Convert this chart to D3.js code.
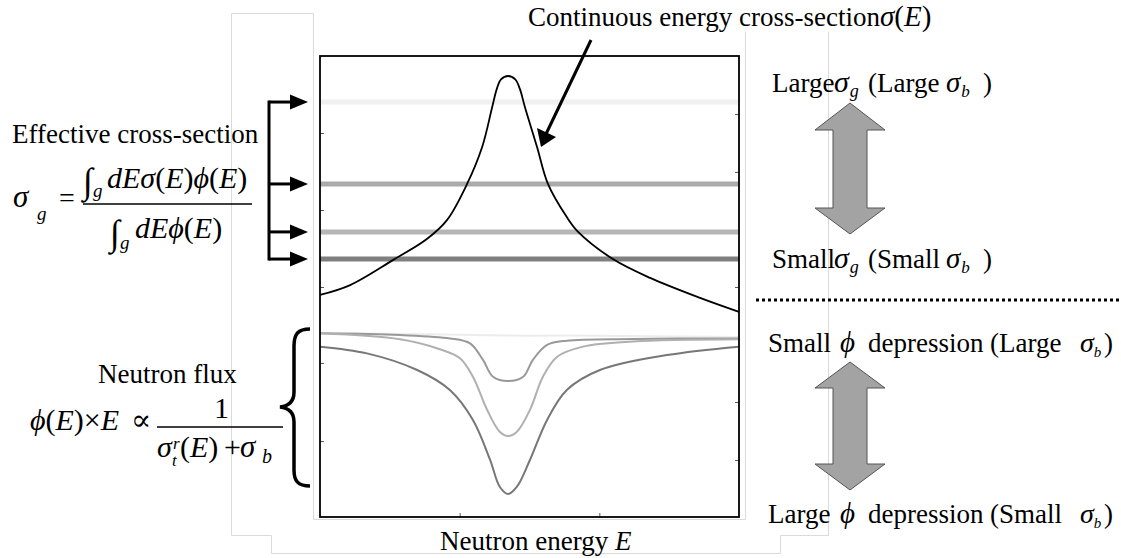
<!DOCTYPE html>
<html><head><meta charset="utf-8">
<script src="https://cdn.jsdelivr.net/npm/d3@7/dist/d3.min.js"></script>
<style>
body{margin:0;background:#fff}
svg{display:block}
svg text{font-family:"Liberation Serif","Tinos","Times New Roman","Noto Serif","DejaVu Serif",serif;fill:#000}
</style></head>
<body><svg id="c" width="1121" height="558"></svg>
<script>
// ---- data (arbitrary units) ----
const sigmaE      = [0, 7.2, 17.4, 25.5, 30.3, 35.1, 38.7, 41.1, 42.2, 43.2, 44.9, 46.6, 47.7, 48.9, 51.8, 54.4, 58.9, 61.6, 69.9, 78.8, 90.7, 100];
const sigmaValues = [1.28, 1.64, 2.55, 3.32, 4.01, 5.33, 6.68, 8.14, 8.80, 9.15, 9.27, 9.15, 8.80, 8.14, 6.68, 5.33, 4.12, 3.58, 2.59, 1.90, 1.17, 0.66];

const groupSigma  = [8.32, 5.33, 3.58, 2.59];          // effective group cross-sections
const groupColors = ["#f0f0f0", "#aaaaaa", "#b6b6b6", "#7f7f7f"];

const fluxFlatE   = [0, 30, 45, 60, 100];
const fluxFlat    = [0.984, 0.976, 0.970, 0.970, 0.963];
const fluxSmallE  = [0, 19.1, 31.0, 35.8, 38.9, 41.3, 44.9, 48.5, 50.8, 54.2, 58.9, 74.7, 100];
const fluxSmall   = [0.982, 0.973, 0.955, 0.928, 0.840, 0.750, 0.727, 0.750, 0.840, 0.920, 0.943, 0.952, 0.955];
const fluxMidE    = [0, 19.1, 28.6, 33.4, 36.5, 39.9, 42.9, 44.9, 47.0, 50.1, 53.2, 56.6, 62.8, 74.7, 100];
const fluxMid     = [0.982, 0.950, 0.897, 0.849, 0.750, 0.572, 0.456, 0.433, 0.456, 0.572, 0.750, 0.857, 0.911, 0.938, 0.950];
const fluxDeepE   = [0, 11.2, 23.2, 31.0, 36.5, 40.6, 42.9, 44.9, 47.0, 50.1, 54.2, 58.9, 66.8, 82.8, 100];
const fluxDeep    = [0.911, 0.875, 0.786, 0.679, 0.519, 0.305, 0.162, 0.123, 0.162, 0.305, 0.519, 0.679, 0.786, 0.866, 0.911];
const fluxColors  = ["#ececec", "#999999", "#b0b0b0", "#777777"];

const xTicks          = [33.33, 66.67];
const sigmaTicksLeft  = [7.19, 4.38, 1.57];
const sigmaTicksRight = [7.88, 5.77, 1.57];
const fluxTicksLeft   = [0.824, 0.406];
const fluxTicksRight  = [0.615, 0.305];

// ---- scales ----
const svg = d3.select("#c");
const x = d3.scaleLinear().domain([0, 100]).range([320, 739]);
const ySig = d3.scaleLinear().domain([0, 10]).range([330, 56]);
const yFlux = d3.scaleLinear().domain([0, 1]).range([517, 330]);

// faint frames
const faint = svg.append("g").attr("fill", "none").attr("stroke", "#dadada").attr("stroke-width", 1);
faint.append("path").attr("d", "M231.5,535.5 V13.5 H313.5 V519.5 H745.5 V32");
faint.append("path").attr("d", "M231.5,535.5 H271.5 V553.5 H780.5 V535.5 H828.5 V32");

// group lines
svg.append("g").selectAll("line").data(groupSigma).join("line")
  .attr("x1", x(0)).attr("x2", x(100))
  .attr("y1", d => ySig(d)).attr("y2", d => ySig(d))
  .attr("stroke", (d, i) => groupColors[i]).attr("stroke-width", 5);

// cross-section curve
const sigLine = d3.line().x((d, i) => x(sigmaE[i])).y(d => ySig(d)).curve(d3.curveCatmullRom.alpha(0.5));
svg.append("path").attr("d", sigLine(sigmaValues)).attr("fill", "none").attr("stroke", "#000").attr("stroke-width", 1.8);

// flux curves
const fluxSeries = [[fluxFlatE, fluxFlat], [fluxSmallE, fluxSmall], [fluxMidE, fluxMid], [fluxDeepE, fluxDeep]];
fluxSeries.forEach(([es, vs], k) => {
  const ln = d3.line().x((d, i) => x(es[i])).y(d => yFlux(d)).curve(d3.curveCatmullRom.alpha(0.5));
  svg.append("path").attr("d", ln(vs)).attr("fill", "none").attr("stroke", fluxColors[k]).attr("stroke-width", 2);
});

// axes (tick marks only)
function ax(gen, tf, vals, sc) {
  svg.append("g").attr("transform", tf)
    .call(gen(sc).tickValues(vals).tickSize(-4).tickFormat(""))
    .call(g => g.select(".domain").remove())
    .call(g => g.selectAll("line").attr("stroke", "#555"));
}
ax(d3.axisBottom, "translate(0,517)", xTicks, x);
ax(d3.axisLeft, "translate(320,0)", sigmaTicksLeft, ySig);
ax(d3.axisRight, "translate(739,0)", sigmaTicksRight, ySig);
ax(d3.axisLeft, "translate(320,0)", fluxTicksLeft, yFlux);
ax(d3.axisRight, "translate(739,0)", fluxTicksRight, yFlux);

// plot frame
svg.append("rect").attr("x", 320).attr("y", 56).attr("width", 419).attr("height", 461)
  .attr("fill", "none").attr("stroke", "#000").attr("stroke-width", 1.8);

// bracket arrows on the left
const br = svg.append("g");
br.append("line").attr("x1", 269).attr("x2", 269)
  .attr("y1", ySig(d3.max(groupSigma)) - 1.5).attr("y2", ySig(d3.min(groupSigma)) + 1.5)
  .attr("stroke", "#000").attr("stroke-width", 3);
groupSigma.forEach(v => {
  const yy = ySig(v);
  br.append("line").attr("x1", 269).attr("x2", 292).attr("y1", yy).attr("y2", yy).attr("stroke", "#000").attr("stroke-width", 3);
  br.append("path").attr("d", `M290,${yy - 7.5} L308,${yy} L290,${yy + 7.5} Z`).attr("fill", "#000");
});

// curly brace
svg.append("path")
  .attr("d", "M310,329 C298,329 294,334 294,346 L294,392 C294,401 289,406 280,407 C289,408 294,413 294,422 L294,470 C294,481 298,486 310,486")
  .attr("fill", "none").attr("stroke", "#000").attr("stroke-width", 3.5);

// arrow from label to curve
svg.append("line").attr("x1", 591).attr("y1", 40).attr("x2", 546).attr("y2", 134).attr("stroke", "#000").attr("stroke-width", 3);
svg.append("path").attr("d", "M541,147 L537,128 L556,137 Z").attr("fill", "#000");

// block double arrows
function dbl(top, sh1, sh2, bot) {
  const p = [[850, top], [885, sh1], [867, sh1], [867, sh2], [885, sh2], [850, bot], [815, sh2], [833, sh2], [833, sh1], [815, sh1]];
  svg.append("path").attr("d", "M" + p.map(q => q.join(",")).join("L") + "Z")
    .attr("fill", "#a3a3a3").attr("stroke", "#555").attr("stroke-width", 1);
}
dbl(103, 130, 208, 234);
dbl(362, 388, 464, 490);

// dotted separator
svg.append("line").attr("x1", 756).attr("x2", 1120).attr("y1", 300).attr("y2", 300)
  .attr("stroke", "#000").attr("stroke-width", 3).attr("stroke-dasharray", "3,3");

// ---- text ----
function rich(x0, y0, size, parts) {
  const t = svg.append("text").attr("x", x0).attr("y", y0).attr("font-size", size);
  parts.forEach(p => {
    const s = t.append("tspan").text(p.t);
    if (p.i) s.attr("font-style", "italic");
    if (p.x != null) s.attr("x", p.x);
    if (p.y != null) s.attr("y", p.y);
    if (p.dx != null) s.attr("dx", p.dx);
    if (p.s) s.attr("font-size", p.s);
  });
  return t;
}

rich(528, 26, 27, [{t: "Continuous energy cross-section"}, {t: "σ", i: 1, s: 29}, {t: "(", s: 29}, {t: "E", i: 1, s: 29}, {t: ")", s: 29}]);

rich(12, 143, 27, [{t: "Effective cross-section"}]);
rich(13, 207, 31, [{t: "σ", i: 1}, {t: "g", i: 1, s: 19, x: 37, y: 220}]);
rich(59, 207, 28, [{t: "="}]);
svg.append("line").attr("x1", 83).attr("x2", 252).attr("y1", 204).attr("y2", 204).attr("stroke", "#000").attr("stroke-width", 1.5);
rich(83, 193, 36, [{t: "∫"}, {t: "g", i: 1, s: 19, x: 93, y: 197}]);
rich(107, 188, 30, [{t: "dE", i: 1}, {t: "σ", i: 1}, {t: "("}, {t: "E", i: 1}, {t: ")"}, {t: "ϕ", i: 1}, {t: "("}, {t: "E", i: 1}, {t: ")"}]);
rich(110, 245, 36, [{t: "∫"}, {t: "g", i: 1, s: 19, x: 120, y: 249}]);
rich(135, 238, 30, [{t: "dE", i: 1}, {t: "ϕ", i: 1}, {t: "("}, {t: "E", i: 1}, {t: ")"}]);

rich(98, 383, 27, [{t: "Neutron flux"}]);
rich(30, 430, 30, [{t: "ϕ", i: 1}, {t: "("}, {t: "E", i: 1}, {t: ")×"}, {t: "E", i: 1}, {t: "∝", x: 131}]);
svg.append("line").attr("x1", 157).attr("x2", 283).attr("y1", 427).attr("y2", 427).attr("stroke", "#000").attr("stroke-width", 1.5);
rich(214, 418, 30, [{t: "1"}]);
rich(157, 457, 30, [{t: "σ", i: 1}, {t: "r", i: 1, s: 17, x: 173, y: 449}, {t: "t", i: 1, s: 17, x: 172, y: 466},
  {t: "(", x: 180, y: 457}, {t: "E", i: 1}, {t: ")"}, {t: "+", x: 224}, {t: "σ", i: 1, x: 240, s: 31}, {t: "b", i: 1, s: 20, x: 262, y: 463}]);

const RS = 27;
rich(772, 92, RS, [{t: "Large"}, {t: "σ", i: 1, x: 834, s: 30}, {t: "g", i: 1, s: 18, dx: 1, y: 97},
  {t: "(Large", x: 868, y: 92}, {t: "σ", i: 1, x: 946, s: 29}, {t: "b", i: 1, s: 17, dx: 1, y: 97}, {t: ")", x: 983, y: 92}]);
rich(772, 268, RS, [{t: "Small"}, {t: "σ", i: 1, x: 834, s: 30}, {t: "g", i: 1, s: 18, dx: 1, y: 273},
  {t: "(Small", x: 868, y: 268}, {t: "σ", i: 1, x: 946, s: 29}, {t: "b", i: 1, s: 17, dx: 1, y: 273}, {t: ")", x: 983, y: 268}]);
rich(768, 352, RS, [{t: "Small"}, {t: "ϕ", i: 1, x: 840, s: 29}, {t: "depression", x: 868}, {t: "(Large", x: 990},
  {t: "σ", i: 1, x: 1080, s: 28}, {t: "b", i: 1, s: 15, dx: 0, y: 357}, {t: ")", x: 1104, y: 352}]);
rich(768, 523, RS, [{t: "Large"}, {t: "ϕ", i: 1, x: 840, s: 29}, {t: "depression", x: 868}, {t: "(Small", x: 990},
  {t: "σ", i: 1, x: 1080, s: 28}, {t: "b", i: 1, s: 15, dx: 0, y: 528}, {t: ")", x: 1104, y: 523}]);

rich(440, 550, 27, [{t: "Neutron energy "}, {t: "E", i: 1}]);
</script></body></html>
